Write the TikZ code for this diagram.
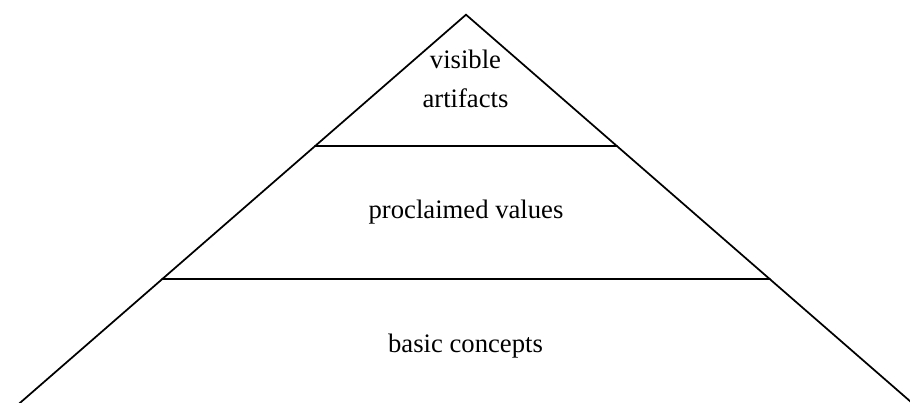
\documentclass[tikz,border=0pt]{standalone}
\usepackage{fontspec}
\setmainfont{Liberation Serif}
\usetikzlibrary{calc}
\tikzset{
  edge/.style={draw=black, line width=1.3pt, line cap=round},
  lbl/.style={anchor=base, inner sep=0pt, font=\fontsize{20}{29}\selectfont}
}
\begin{document}
\begin{tikzpicture}[x=0.75pt, y=-0.75pt]
\useasboundingbox (0,0) rectangle (910,403);
\clip (0,0) rectangle (910,403);
\coordinate (apex) at (466,14.7);
\coordinate (bl) at (19.4,403);
\coordinate (br) at (912.6,403);
\coordinate (bl2) at (-20,437.7);
\coordinate (br2) at (952,437.7);
\coordinate (l1) at ($(apex)!0.3381!(bl)$);
\coordinate (r1) at ($(apex)!0.3381!(br)$);
\coordinate (l2) at ($(apex)!0.6807!(bl)$);
\coordinate (r2) at ($(apex)!0.6807!(br)$);
\draw[edge] (bl2) -- (apex) -- (br2);
\draw[edge] (l1) -- (r1);
\draw[edge] (l2) -- (r2);
\node[lbl] (t1) at (465.5,69) {visible};
\node[lbl] (t2) at (465.5,108) {artifacts};
\node[lbl] (t3) at (466,218) {proclaimed values};
\node[lbl] (t4) at (465.5,352) {basic concepts};
\end{tikzpicture}
\end{document}
